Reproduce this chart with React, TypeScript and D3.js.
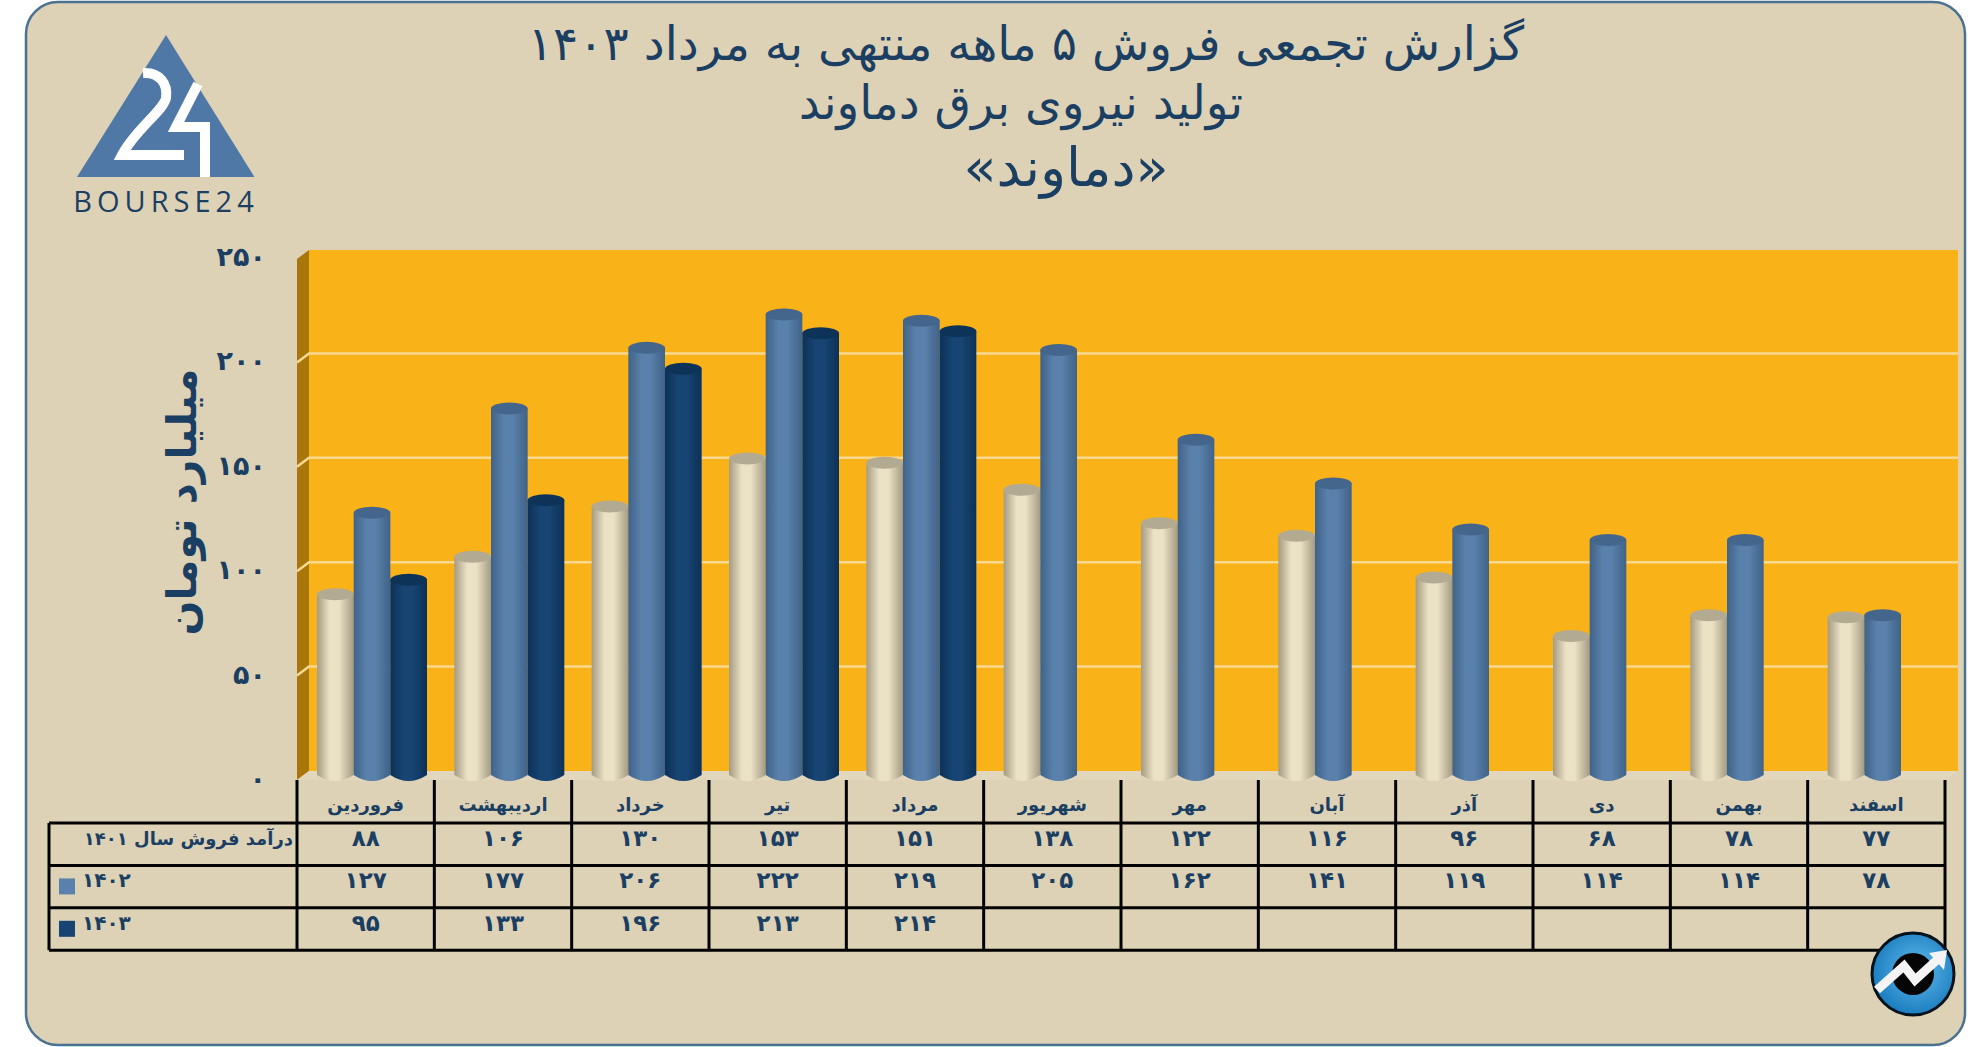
import React from 'react';
import * as d3 from 'd3';

const months = ['فروردین', 'اردیبهشت', 'خرداد', 'تیر', 'مرداد', 'شهریور', 'مهر', 'آبان', 'آذر', 'دی', 'بهمن', 'اسفند'];
const sales1401 = [88, 106, 130, 153, 151, 138, 122, 116, 96, 68, 78, 77];
const sales1402 = [127, 177, 206, 222, 219, 205, 162, 141, 119, 114, 114, 78];
const sales1403 = [95, 133, 196, 213, 214];
const yTicks = [0, 50, 100, 150, 200, 250];
const seriesKeys = ['1401', '1402', '1403'];
const seriesLabels = ['درآمد فروش سال ۱۴۰۱', '۱۴۰۲', '۱۴۰۳'];
const titleLines = ['گزارش تجمعی فروش ۵ ماهه منتهی به مرداد ۱۴۰۳', 'تولید نیروی برق دماوند', '«دماوند»'];
const yTitle = 'میلیارد تومان';

const W = 1986;
const H = 1047;
const FONT = '"DejaVu Sans", sans-serif';
const INK = '#1b3f63';
const seriesValues = [sales1401, sales1402, sales1403];
const seriesColors = [
  { edge: '#a39b83', mid: '#ebe1c5', top: '#b3aa92' },
  { edge: '#3f6288', mid: '#5a81ab', top: '#44658c' },
  { edge: '#0c3157', mid: '#174472', top: '#0e3358' },
];

// persian digits for the table and the axis
const fa = (n: number) => String(n).replace(/\d/g, d => '۰۱۲۳۴۵۶۷۸۹'[+d]);

// geometry of the fake 3d box
const frontLeft = 297;
const frontRight = 1945;
const floorFront = 780;
const depthX = 12;
const depthY = 9;
const wallRight = 1958;
const tableTop = 823;
const rowH = 42.4;
const tableLeft = 49;

const x = d3.scaleBand<string>().domain(months).range([frontLeft, frontRight]);
const inner = d3.scaleBand<string>().domain(seriesKeys).range([0, 110]);
const y = d3.scaleLinear().domain([0, 250]).range([floorFront, floorFront - 522]);

function Cylinder({ cx, top, bottom, w, idx }: { cx: number; top: number; bottom: number; w: number; idx: number }) {
  const ry = 6;
  const path = d3.path();
  path.moveTo(cx - w / 2, top);
  path.lineTo(cx - w / 2, bottom);
  path.quadraticCurveTo(cx, bottom + ry * 2, cx + w / 2, bottom);
  path.lineTo(cx + w / 2, top);
  path.closePath();
  return (
    <g>
      <path d={path.toString()} fill={`url(#bar${idx})`} />
      <ellipse cx={cx} cy={top} rx={w / 2} ry={ry} fill={seriesColors[idx].top} />
    </g>
  );
}

function Logo() {
  return (
    <g>
      <path d="M166,35 L254.5,177 L77,177 Z" fill="#5078a6" />
      <path d="M143,73 C160,72 168,84 166,98 C164,110 135,130 122,155 L184,155" fill="none" stroke="#fff" strokeWidth={10} />
      <path d="M198,84 L176,127 L205,127 L205,177" fill="none" stroke="#fff" strokeWidth={10} />
      <text x={166} y={212} textAnchor="middle" fontFamily='"Open Sans", sans-serif' fontSize={29} letterSpacing={5} fill={INK}>BOURSE24</text>
    </g>
  );
}

function Badge() {
  return (
    <g>
      <circle cx={1913} cy={974} r={41} fill="url(#badge)" stroke="#05121c" strokeWidth={3} />
      <circle cx={1913} cy={974} r={21} fill="#050505" />
      <path d="M1877,990 L1904,966 L1915,980 L1938,959" fill="none" stroke="#f4f4f4" strokeWidth={9} />
      <path d="M1947,950 L1929,953 L1944,970 Z" fill="#f4f4f4" />
    </g>
  );
}

export default function App() {
  const rows = d3.range(4).map(i => tableTop + i * rowH);
  return (
    <svg width={W} height={H} style={{ position: 'absolute', left: 0, top: 0, background: '#fff' }}>
      <defs>
        {seriesColors.map((c, i) => (
          <linearGradient key={i} id={`bar${i}`} x1="0" x2="1" y1="0" y2="0">
            <stop offset="0" stopColor={c.edge} />
            <stop offset="0.35" stopColor={c.mid} />
            <stop offset="0.6" stopColor={c.mid} />
            <stop offset="1" stopColor={c.edge} />
          </linearGradient>
        ))}
        <radialGradient id="badge" cx="0.55" cy="0.45" r="0.6">
          <stop offset="0" stopColor="#5fb8ea" />
          <stop offset="1" stopColor="#1679bd" />
        </radialGradient>
      </defs>

      <rect x={26} y={2} width={1939} height={1043} rx={32} fill="#ded2b6" stroke="#4a7190" strokeWidth={2.5} />

      <Logo />

      {titleLines.map((t, i) => (
        <text key={t} x={[1026, 1021, 1066][i]} y={[60, 119, 186][i]} textAnchor="middle" direction="rtl"
          fontFamily={FONT} fontSize={[47, 47, 54][i]} fill={INK}>{t}</text>
      ))}

      {/* box: back wall, side wall, floor */}
      <rect x={frontLeft + depthX} y={y(250) - depthY + 1} width={wallRight - frontLeft - depthX} height={521} fill="#fab219" />
      <path d={`M${frontLeft},${y(250) + 1} L${frontLeft + depthX},${y(250) - depthY + 1} V${floorFront - depthY} L${frontLeft},${floorFront} Z`} fill="#a8760b" />
      <path d={`M${frontLeft},${floorFront} L${frontLeft + depthX},${floorFront - depthY} H${wallRight} L${frontRight},${floorFront} Z`} fill="#e2d7bd" />

      {yTicks.filter(t => t > 0 && t < 250).map(t => (
        <path key={t} d={`M${frontLeft},${y(t)} L${frontLeft + depthX},${y(t) - depthY} H${wallRight}`}
          fill="none" stroke="#f9d98f" strokeWidth={2.5} />
      ))}

      {yTicks.map(t => (
        <text key={t} x={266} y={y(t) + 8} textAnchor="end" fontFamily={FONT} fontWeight="bold" fontSize={27} fill={INK}>{fa(t)}</text>
      ))}

      <text transform="translate(196,502) rotate(-90)" textAnchor="middle" direction="rtl"
        fontFamily={FONT} fontWeight="bold" fontSize={41} fill={INK}>{yTitle}</text>

      {months.map((m, mi) => seriesKeys.map((k, si) => {
        const v = seriesValues[si][mi];
        if (v === undefined) return null;
        const w = inner.bandwidth();
        const cx = x(m)! + 20 + inner(k)! + w / 2;
        return <Cylinder key={k + m} cx={cx} top={y(v) - 2} bottom={floorFront - 5} w={w} idx={si} />;
      }))}

      {/* table */}
      <g stroke="#000" strokeWidth={3}>
        {rows.map(r => <line key={r} x1={tableLeft} x2={frontRight} y1={r} y2={r} />)}
        <line x1={tableLeft} x2={tableLeft} y1={tableTop} y2={rows[3]} />
        {months.map(m => <line key={m} x1={x(m)!} x2={x(m)!} y1={floorFront} y2={rows[3]} />)}
        <line x1={frontRight} x2={frontRight} y1={floorFront} y2={rows[3]} />
      </g>

      {months.map(m => (
        <text key={m} x={x(m)! + x.bandwidth() / 2} y={811} textAnchor="middle" direction="rtl"
          fontFamily={FONT} fontWeight="bold" fontSize={18} fill={INK}>{m}</text>
      ))}

      {seriesKeys.map((k, si) => (
        <g key={k}>
          <text x={si === 0 ? 293 : 82} y={rows[si] + 22} textAnchor="start" direction={si === 0 ? 'rtl' : 'ltr'}
            fontFamily={FONT} fontWeight="bold" fontSize={si === 0 ? 18 : 20} fill={INK}>{seriesLabels[si]}</text>
          {si > 0 && <rect x={59} y={rows[si] + 13} width={16} height={16} fill={seriesColors[si].mid} />}
          {seriesValues[si].map((v, mi) => (
            <text key={mi} x={x(months[mi])! + x.bandwidth() / 2} y={rows[si] + 23} textAnchor="middle"
              fontFamily={FONT} fontWeight="bold" fontSize={23} fill={INK}>{fa(v)}</text>
          ))}
        </g>
      ))}

      <Badge />
    </svg>
  );
}
